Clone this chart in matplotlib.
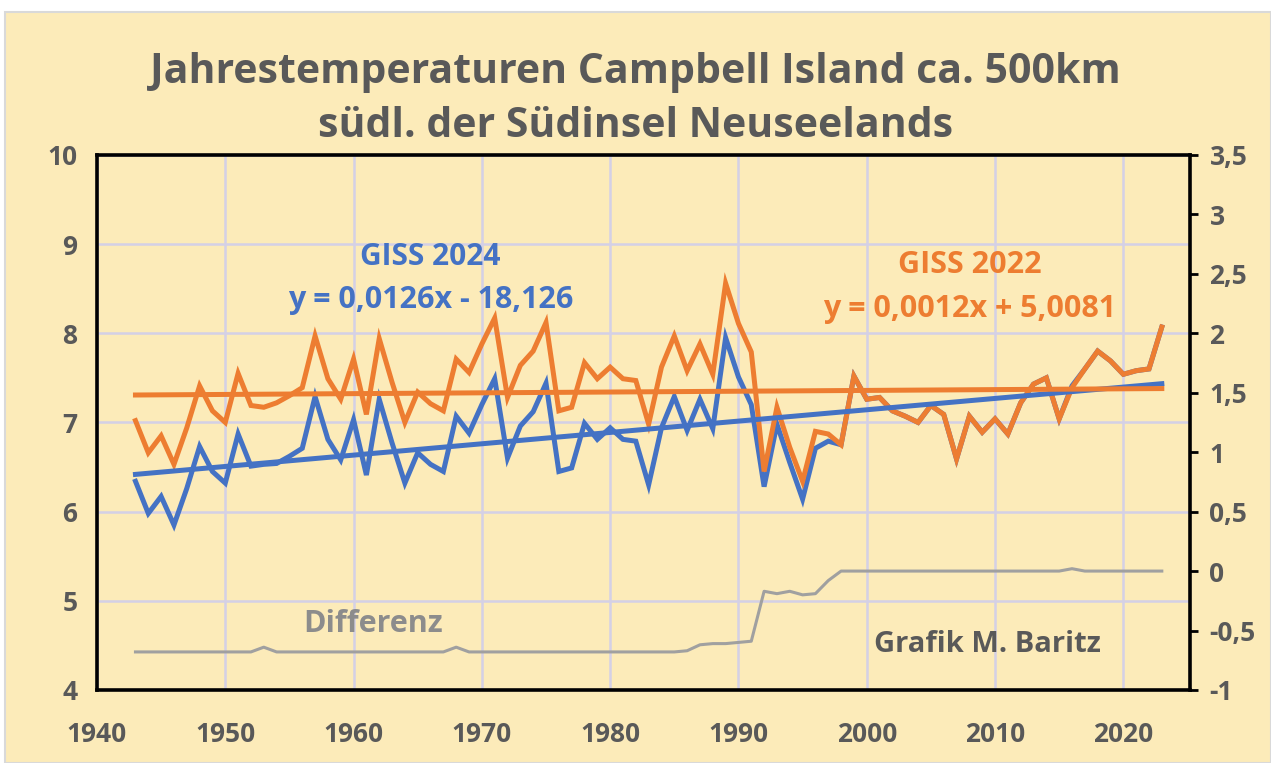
import numpy as np
import matplotlib
matplotlib.use("Agg")
import matplotlib.pyplot as plt
from matplotlib.patches import Rectangle

plt.rcParams['font.family'] = ['Open Sans', 'DejaVu Sans']
plt.rcParams['font.weight'] = 'bold'

years = list(range(1943, 2024))

giss_2022 = [7.02, 6.66, 6.85, 6.53, 6.94, 7.41, 7.13, 7.00, 7.55, 7.19,
             7.17, 7.22, 7.30, 7.39, 7.97, 7.49, 7.26, 7.71, 7.09, 7.94,
             7.45, 7.00, 7.34, 7.21, 7.13, 7.71, 7.56, 7.88, 8.17, 7.28,
             7.64, 7.80, 8.12, 7.13, 7.17, 7.67, 7.49, 7.62, 7.49, 7.47,
             6.98, 7.62, 7.97, 7.58, 7.88, 7.54, 8.56, 8.11, 7.79, 6.45,
             7.17, 6.72, 6.34, 6.90, 6.87, 6.75, 7.52, 7.26, 7.28, 7.13,
             7.07, 7.00, 7.19, 7.09, 6.59, 7.07, 6.89, 7.04, 6.87, 7.22,
             7.43, 7.50, 7.04, 7.39, 7.60, 7.80, 7.69, 7.54, 7.58, 7.60,
             8.07]

giss_2024 = [6.34, 5.98, 6.17, 5.85, 6.26, 6.73, 6.45, 6.32, 6.87, 6.51,
             6.53, 6.54, 6.62, 6.71, 7.29, 6.81, 6.58, 7.03, 6.41, 7.26,
             6.77, 6.32, 6.66, 6.53, 6.45, 7.07, 6.88, 7.20, 7.49, 6.60,
             6.96, 7.12, 7.44, 6.45, 6.49, 6.99, 6.81, 6.94, 6.81, 6.79,
             6.30, 6.94, 7.29, 6.91, 7.26, 6.93, 7.95, 7.51, 7.20, 6.28,
             6.98, 6.55, 6.14, 6.71, 6.79, 6.75, 7.52, 7.26, 7.28, 7.13,
             7.07, 7.00, 7.19, 7.09, 6.59, 7.07, 6.89, 7.04, 6.87, 7.22,
             7.43, 7.50, 7.04, 7.41, 7.60, 7.80, 7.69, 7.54, 7.58, 7.60,
             8.07]

differenz = [-0.68, -0.68, -0.68, -0.68, -0.68, -0.68, -0.68, -0.68, -0.68, -0.68,
             -0.64, -0.68, -0.68, -0.68, -0.68, -0.68, -0.68, -0.68, -0.68, -0.68,
             -0.68, -0.68, -0.68, -0.68, -0.68, -0.64, -0.68, -0.68, -0.68, -0.68,
             -0.68, -0.68, -0.68, -0.68, -0.68, -0.68, -0.68, -0.68, -0.68, -0.68,
             -0.68, -0.68, -0.68, -0.67, -0.62, -0.61, -0.61, -0.60, -0.59, -0.17,
             -0.19, -0.17, -0.20, -0.19, -0.08, 0.00, 0.00, 0.00, 0.00, 0.00,
             0.00, 0.00, 0.00, 0.00, 0.00, 0.00, 0.00, 0.00, 0.00, 0.00,
             0.00, 0.00, 0.00, 0.02, 0.00, 0.00, 0.00, 0.00, 0.00, 0.00,
             0.00]

x_ticks = [1940, 1950, 1960, 1970, 1980, 1990, 2000, 2010, 2020]
left_ticks = [4, 5, 6, 7, 8, 9, 10]
right_ticks = [-1, -0.5, 0, 0.5, 1, 1.5, 2, 2.5, 3, 3.5]

title_lines = ["Jahrestemperaturen Campbell Island ca. 500km",
               "südl. der Südinsel Neuseelands"]
label_2024 = "GISS 2024"
eq_2024 = "y = 0,0126x - 18,126"
label_2022 = "GISS 2022"
eq_2022 = "y = 0,0012x + 5,0081"
label_diff = "Differenz"
credit = "Grafik M. Baritz"

BG = '#FCEBB9'
BLUE = '#4472C4'
ORANGE = '#ED7D31'
GRAY_TXT = '#595959'
GRID = '#D4D0E6'

fig = plt.figure(figsize=(12.71, 7.63), dpi=100)
fig.patch.set_facecolor('white')
fig.patches.append(Rectangle((0.004, 0.0), 0.996, 0.984, transform=fig.transFigure,
                             facecolor=BG, edgecolor='#D9D9D9', linewidth=1.5, zorder=-10))

ax = fig.add_axes([0.0763, 0.0957, 0.860, 0.7013])
ax.set_facecolor(BG)
ax.set_xlim(1940, 2025.2)
ax.set_ylim(4, 10)
ax.set_xticks(x_ticks)
ax.set_yticks(left_ticks)
ax.grid(True, color=GRID, linewidth=1.8, zorder=0)
ax.set_axisbelow(True)
for s in ax.spines.values():
    s.set_color('black')
    s.set_linewidth(2.6)
ax.tick_params(axis='both', length=0, labelsize=19, labelcolor=GRAY_TXT)
ax.tick_params(axis='x', pad=22)
ax.tick_params(axis='y', pad=14)

yrs = np.array(years, dtype=float)
ax.plot(yrs, giss_2024, color=BLUE, lw=3.6, zorder=3, solid_joinstyle='miter')
ax.plot(yrs, giss_2022, color=ORANGE, lw=3.6, zorder=4, solid_joinstyle='miter')
pb = np.polyfit(yrs, giss_2024, 1)
po = np.polyfit(yrs, giss_2022, 1)
ax.plot(yrs[[0, -1]], np.polyval(pb, yrs[[0, -1]]), color=BLUE, lw=3.6, zorder=5)
ax.plot(yrs[[0, -1]], np.polyval(po, yrs[[0, -1]]), color=ORANGE, lw=3.6, zorder=6)

ax2 = ax.twinx()
ax2.set_ylim(-1, 3.5)
ax2.set_yticks(right_ticks)
ax2.set_yticklabels([('%g' % v).replace('.', ',') for v in right_ticks])
ax2.plot(yrs, differenz, color='#A0A0A0', lw=2.2, zorder=3)
ax2.tick_params(axis='y', length=6, width=2, direction='out', labelsize=19,
                labelcolor=GRAY_TXT, pad=8)
for s in ax2.spines.values():
    s.set_visible(False)

fig.text(0.5, 0.905, title_lines[0], ha='center', va='center', fontsize=29.5,
         color=GRAY_TXT, fontweight='bold')
fig.text(0.5, 0.834, title_lines[1], ha='center', va='center', fontsize=29.5,
         color=GRAY_TXT, fontweight='bold')

ax.text(1966.0, 8.85, label_2024, ha='center', va='center', fontsize=21.5, color=BLUE, fontweight='bold')
ax.text(1966.0, 8.37, eq_2024, ha='center', va='center', fontsize=22, color=BLUE, fontweight='bold')
ax.text(2008.0, 8.76, label_2022, ha='center', va='center', fontsize=22, color=ORANGE, fontweight='bold')
ax.text(2008.0, 8.27, eq_2022, ha='center', va='center', fontsize=22, color=ORANGE, fontweight='bold')
ax.text(1961.5, 4.74, label_diff, ha='center', va='center', fontsize=22, color='#8C8C8C', fontweight='bold')
ax.text(2009.4, 4.51, credit, ha='center', va='center', fontsize=21, color=GRAY_TXT, fontweight='bold')

fig.savefig('out.png', dpi=100, facecolor=fig.get_facecolor())
